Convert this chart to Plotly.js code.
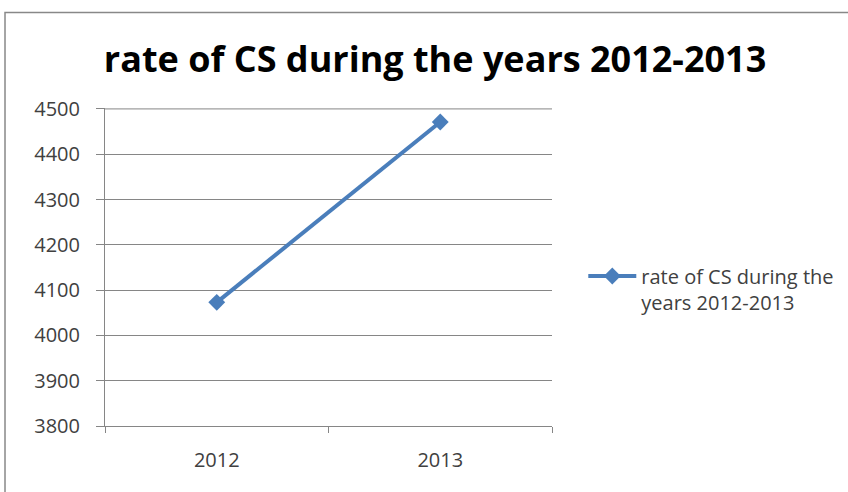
<!DOCTYPE html>
<html>
<head>
<meta charset="utf-8">
<script src="https://cdn.plot.ly/plotly-3.0.1.min.js"></script>
<style>html,body{margin:0;padding:0;background:#fff;}#chart{width:848px;height:492px;}</style>
</head>
<body>
<div id="chart"></div>
<script>
var years = ["2012", "2013"];
var rateValues = [4073, 4471];
var seriesName = "rate of CS during the<br>years 2012-2013";
var chartTitle = "rate of CS during the years 2012-2013";
var yMin = 3800, yMax = 4500;

var trace = {
  x: years,
  y: rateValues,
  type: "scatter",
  mode: "lines+markers",
  name: seriesName,
  line: {color: "#4a7ebb", width: 4},
  marker: {symbol: "diamond", size: 13, color: "#4a7ebb"}
};

var layout = {
  width: 848,
  height: 492,
  margin: {l: 105, r: 296, t: 108, b: 66, autoexpand: false},
  paper_bgcolor: "#ffffff",
  plot_bgcolor: "#ffffff",
  font: {family: "Open Sans, sans-serif", color: "#404040", size: 16},
  title: {
    text: "<b>" + chartTitle + "</b>",
    font: {family: "Open Sans, sans-serif", size: 36, color: "#000000"},
    x: 0.513, xref: "container", xanchor: "center",
    y: 0.88, yref: "container", yanchor: "middle"
  },
  showlegend: true,
  legend: {
    x: 1.07, xanchor: "left", y: 0.533, yanchor: "top",
    valign: "top",
    itemwidth: 48,
    font: {family: "Open Sans, sans-serif", size: 20, color: "#404040"},
    bgcolor: "rgba(0,0,0,0)"
  },
  xaxis: {
    type: "category",
    range: [-0.5, 1.5],
    showgrid: false,
    showline: true,
    linecolor: "#868686",
    linewidth: 1,
    ticks: "outside",
    tickson: "boundaries",
    ticklen: 6,
    tickcolor: "#868686",
    tickfont: {size: 20, color: "#404040"},
    ticklabelstandoff: 16,
    fixedrange: true
  },
  yaxis: {
    range: [yMin, yMax + 2],
    dtick: 100,
    tick0: yMin,
    showgrid: true,
    gridcolor: "#868686",
    gridwidth: 1,
    showline: true,
    linecolor: "#868686",
    linewidth: 1,
    ticks: "outside",
    ticklen: 8,
    tickcolor: "#868686",
    tickfont: {size: 20, color: "#404040"},
    ticklabelstandoff: 12,
    zeroline: false,
    fixedrange: true
  },
  shapes: [{
    type: "rect", xref: "paper", yref: "paper",
    x0: -0.2237, x1: 1.9, y0: -0.6, y1: 1.3007,
    line: {color: "#888888", width: 1.5},
    fillcolor: "rgba(0,0,0,0)",
    layer: "below"
  }, {
    type: "line", xref: "paper", yref: "y",
    x0: 0, x1: 1, y0: yMax, y1: yMax,
    line: {color: "#868686", width: 1},
    layer: "below"
  }]
};

Plotly.newPlot("chart", [trace], layout, {displayModeBar: false, staticPlot: true});
</script>
</body>
</html>
